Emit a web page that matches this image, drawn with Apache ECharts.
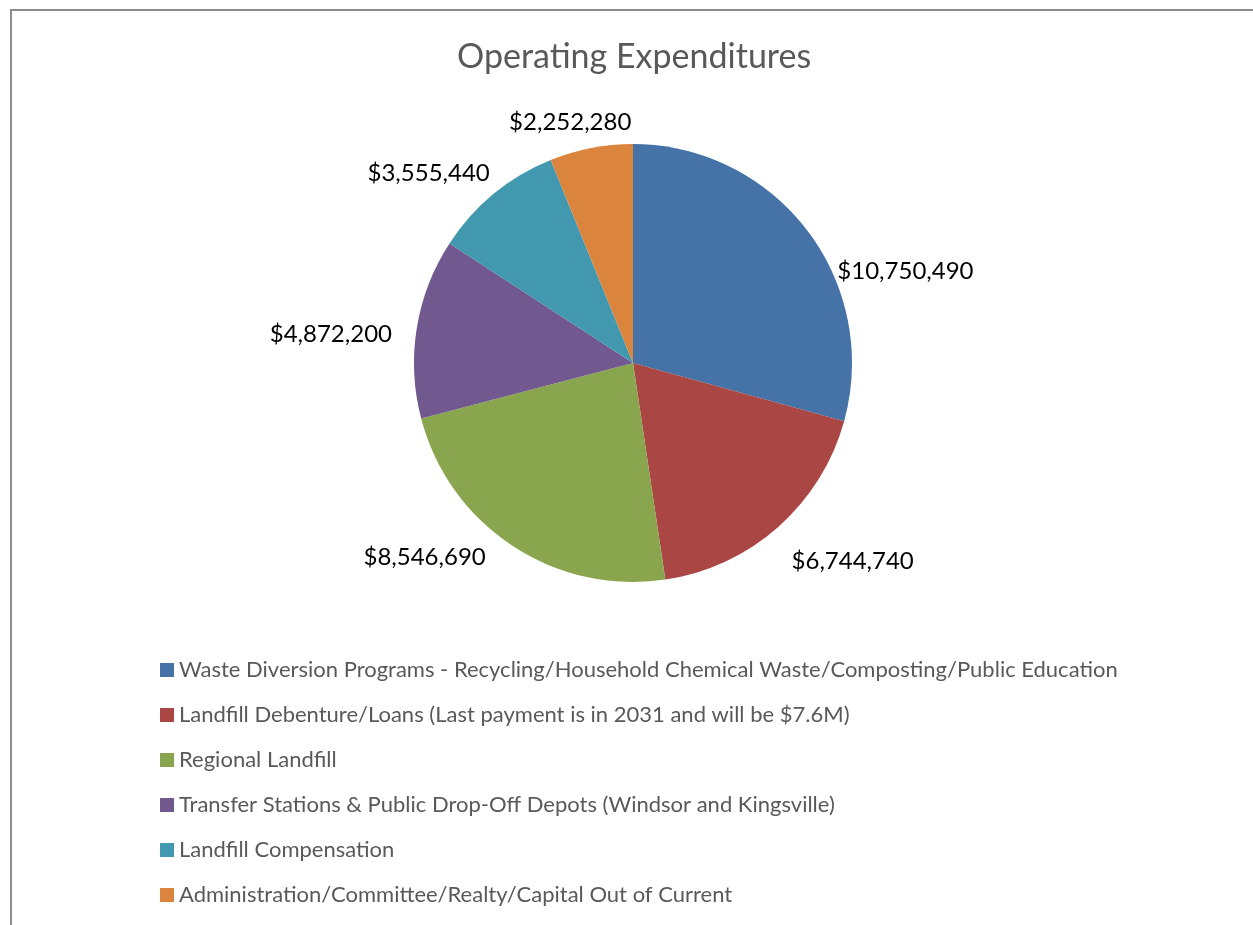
<!DOCTYPE html>
<html>
<head>
<meta charset="utf-8">
<script src="https://cdn.jsdelivr.net/npm/echarts@6/dist/echarts.min.js"></script>
<style>
html,body{margin:0;padding:0;background:#fff;}
#frame{position:absolute;left:10px;top:9px;width:1300px;height:1000px;border-top:2px solid #8c8c8c;border-left:2px solid #8c8c8c;}
#chart{position:absolute;left:0;top:0;width:1253px;height:925px;}
</style>
</head>
<body>
<div id="frame"></div>
<div id="chart"></div>
<script>
const chartTitle = 'Operating Expenditures';
const categories = [
  'Waste Diversion Programs - Recycling/Household Chemical Waste/Composting/Public Education',
  'Landfill Debenture/Loans (Last payment is in 2031 and will be $7.6M)',
  'Regional Landfill',
  'Transfer Stations & Public Drop-Off Depots (Windsor and Kingsville)',
  'Landfill Compensation',
  'Administration/Committee/Realty/Capital Out of Current'
];
const values = [10750490, 6744740, 8546690, 4872200, 3555440, 2252280];
const colors = ['#4572a7', '#aa4643', '#89a54e', '#71588f', '#4198af', '#db843d'];
// small nudges of the outside data labels, to follow the reference's label placement
const labelNudgeX = [14, -1, -14, -6, 10, 48];
const labelNudgeY = [49, 24, 0, 8, -10, -12];

const fontFamily = 'Lato, "Open Sans", sans-serif';
const chart = echarts.init(document.getElementById('chart'));
chart.setOption({
  animation: false,
  color: colors,
  title: {
    text: chartTitle,
    left: 452,
    top: 35,
    textStyle: {fontFamily: fontFamily, fontSize: 34, fontWeight: 'normal', color: '#595959'}
  },
  legend: {
    orient: 'vertical',
    left: 160,
    top: 659,
    padding: 0,
    icon: 'rect',
    itemWidth: 14,
    itemHeight: 14,
    itemGap: 23,
    textStyle: {fontFamily: fontFamily, fontSize: 22, color: '#595959'},
    data: categories
  },
  series: [{
    type: 'pie',
    center: [633, 363],
    radius: 219,
    startAngle: 90,
    clockwise: true,
    data: categories.map((c, i) => ({name: c, value: values[i]})),
    label: {
      show: true,
      position: 'outside',
      fontFamily: fontFamily,
      fontSize: 24,
      color: '#000',
      formatter: p => '$' + p.value.toLocaleString('en-US')
    },
    labelLine: {show: false, length: 14, length2: 0},
    labelLayout: p => ({dx: labelNudgeX[p.dataIndex], dy: labelNudgeY[p.dataIndex]}),
    itemStyle: {borderWidth: 0}
  }]
});
</script>
</body>
</html>
